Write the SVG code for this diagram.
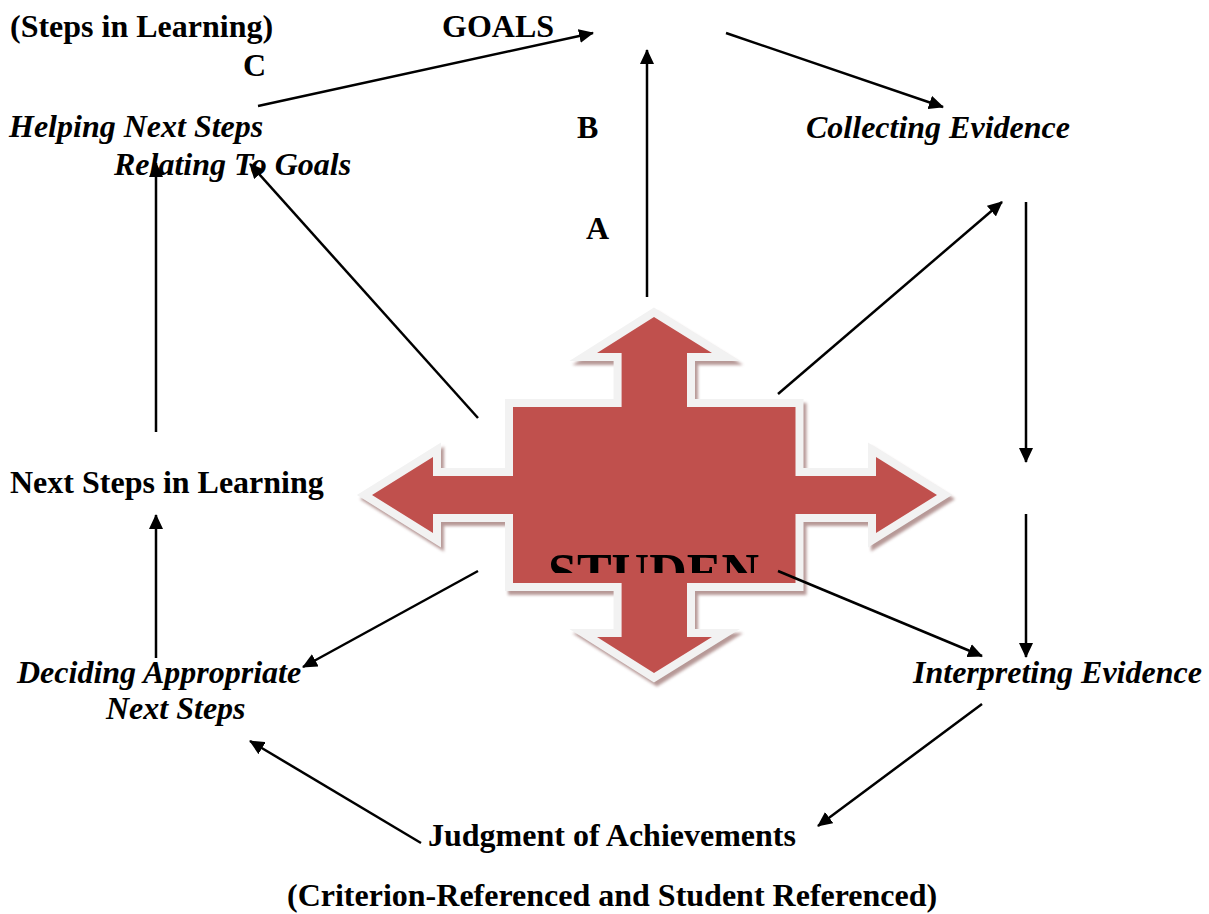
<svg xmlns="http://www.w3.org/2000/svg" width="1209" height="914" viewBox="0 0 1209 914">
<style>
.t{font-family:"Liberation Serif","Times New Roman",serif;font-size:32px;font-weight:bold;fill:#000}
.i{font-style:italic}
.c{stroke:#000;stroke-width:2.5;fill:none;marker-end:url(#ah)}
</style>
<defs>
<marker id="ah" markerUnits="userSpaceOnUse" viewBox="0 0 15 14" refX="14" refY="7" markerWidth="15" markerHeight="14" orient="auto">
<path d="M0,0 L15,7 L0,14 Z" fill="#000"/>
</marker>
<path id="star" d="M654,317 L712,353 L687,353 L687,407 L795.5,407 L795.5,476 L876,476 L876,457 L937,495 L876,533 L876,514 L795.5,514 L795.5,583 L687,583 L687,637 L712,637 L654,673 L597,637 L621.6,637 L621.6,583 L513,583 L513,514 L433,514 L433,533 L372,495 L433,457 L433,476 L513,476 L513,407 L621.6,407 L621.6,353 L597,353 Z"/>
<filter id="blur" x="-10%" y="-10%" width="120%" height="120%"><feGaussianBlur stdDeviation="1.5"/></filter>
<clipPath id="stclip"><rect x="500" y="540" width="300" height="33"/></clipPath>
</defs>
<rect width="1209" height="914" fill="#fff"/>

<g id="student">
<use href="#star" transform="translate(3,4)" fill="#a47f7d" stroke="#a47f7d" stroke-width="16" stroke-linejoin="miter" opacity="0.8" filter="url(#blur)"/>
<use href="#star" fill="#c0504d" stroke="#f2f2f2" stroke-width="16" stroke-linejoin="miter" paint-order="stroke"/>
<text class="t" x="548" y="590" style="font-size:52px" clip-path="url(#stclip)">STUDEN</text>
</g>

<g id="steps-in-learning-title"><text class="t" x="10" y="37">(Steps in Learning)</text></g>
<g id="goals"><text class="t" x="442" y="37">GOALS</text></g>
<g id="label-c"><text class="t" x="243" y="76">C</text></g>
<g id="label-b"><text class="t" x="577" y="138">B</text></g>
<g id="label-a"><text class="t" x="586" y="239">A</text></g>
<g id="helping-next-steps">
<text class="t i" x="9" y="137">Helping Next Steps</text>
<text class="t i" x="114" y="175">Relating To Goals</text>
</g>
<g id="collecting-evidence"><text class="t i" x="806" y="138">Collecting Evidence</text></g>
<g id="next-steps-in-learning"><text class="t" x="10" y="493">Next Steps in Learning</text></g>
<g id="deciding-next-steps">
<text class="t i" x="17" y="683">Deciding Appropriate</text>
<text class="t i" x="106" y="719">Next Steps</text>
</g>
<g id="interpreting-evidence"><text class="t i" x="913" y="683">Interpreting Evidence</text></g>
<g id="judgment"><text class="t" x="428" y="846">Judgment of Achievements</text></g>
<g id="caption"><text class="t" x="287" y="906">(Criterion-Referenced and Student Referenced)</text></g>

<g id="connectors">
<line class="c" x1="258" y1="106" x2="593" y2="33"/>
<line class="c" x1="647" y1="297" x2="647" y2="50"/>
<line class="c" x1="726" y1="33" x2="943" y2="107"/>
<line class="c" x1="778" y1="394" x2="1002" y2="202"/>
<line class="c" x1="1026" y1="202" x2="1026" y2="462"/>
<line class="c" x1="1026" y1="514" x2="1026" y2="657"/>
<line class="c" x1="778" y1="571" x2="982" y2="656"/>
<line class="c" x1="982" y1="704" x2="818" y2="826"/>
<line class="c" x1="421" y1="843" x2="250" y2="741"/>
<line class="c" x1="478" y1="571" x2="303" y2="667"/>
<line class="c" x1="156" y1="658" x2="156" y2="515"/>
<line class="c" x1="156" y1="432" x2="156" y2="163"/>
<line class="c" x1="478" y1="418" x2="250" y2="164"/>
</g>
</svg>
